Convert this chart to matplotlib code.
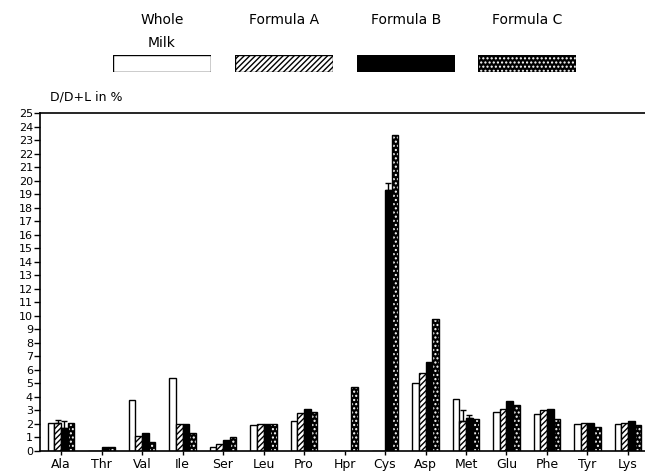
import matplotlib
matplotlib.use("Agg")
import matplotlib.pyplot as plt
from matplotlib.patches import Rectangle
import numpy as np

amino_acids = ["Ala", "Thr", "Val", "Ile", "Ser", "Leu", "Pro", "Hpr",
               "Cys", "Asp", "Met", "Glu", "Phe", "Tyr", "Lys"]
whole_milk = [2.05, 0, 3.8, 5.4, 0.3, 1.9, 2.2, 0, 0, 5.0, 3.85, 2.85, 2.75, 2.0, 2.0]
formula_a = [2.1, 0, 1.1, 2.0, 0.5, 2.0, 2.8, 0, 0, 5.75, 2.2, 3.1, 3.0, 2.1, 2.1]
formula_b = [1.7, 0.3, 1.3, 2.0, 0.8, 2.0, 3.1, 0, 19.3, 6.6, 2.45, 3.7, 3.1, 2.1, 2.2]
formula_c = [2.05, 0.3, 0.7, 1.3, 1.0, 2.0, 2.9, 4.7, 23.4, 9.8, 2.4, 3.4, 2.4, 1.8, 1.9]
# upward error bars (only a few are drawn in the original)
err_a = [0.2, 0, 0, 0, 0, 0, 0, 0, 0, 0, 0.8, 0, 0, 0, 0]
err_b = [0.55, 0, 0, 0, 0, 0, 0, 0, 0.5, 0, 0.2, 0, 0, 0, 0]

series = [("Whole", "Milk"), ("Formula A", ""), ("Formula B", ""), ("Formula C", "")]

W, H = 645, 474
fig = plt.figure(figsize=(W / 100, H / 100), dpi=100)
ax = fig.add_axes([40 / W, 23 / H, (W - 40) / W, 338 / H])

x = np.arange(len(amino_acids))
w = 0.163


def draw_bars(ax, xs, vals, style, yerr=None):
    if style == "white":
        ax.bar(xs, vals, w, color="white", edgecolor="black", linewidth=1)
    elif style == "hatch":
        ax.bar(xs, vals, w, color="white", edgecolor="black", linewidth=1, hatch="//////")
    elif style == "black":
        ax.bar(xs, vals, w, color="black", edgecolor="black", linewidth=1)
    else:
        ax.bar(xs, vals, w, color="black", edgecolor="white", linewidth=0, hatch="....")
        ax.bar(xs, vals, w, fill=False, edgecolor="black", linewidth=1)
    if yerr is not None:
        lo = np.zeros(len(vals))
        hi = np.array(yerr)
        m = hi > 0
        ax.errorbar(np.asarray(xs)[m], np.asarray(vals)[m], yerr=[lo[m], hi[m]],
                    fmt="none", ecolor="black", elinewidth=1, capsize=2.5)


plt.rcParams["hatch.linewidth"] = 1.0
draw_bars(ax, x - 1.5 * w, whole_milk, "white")
draw_bars(ax, x - 0.5 * w, formula_a, "hatch", err_a)
draw_bars(ax, x + 0.5 * w, formula_b, "black", err_b)
draw_bars(ax, x + 1.5 * w, formula_c, "dots")

ax.set_xlim(-0.519, 14.42)
ax.set_ylim(0, 25)
ax.set_yticks(range(26))
ax.set_yticklabels([str(i) for i in range(26)], fontsize=8)
ax.set_xticks(x)
ax.set_xticklabels(amino_acids, fontsize=9)
ax.tick_params(axis="y", direction="out", length=4, width=1, pad=1)
ax.tick_params(axis="x", direction="out", length=3, width=1, pad=2)
ax.spines["right"].set_visible(False)
for s in ["left", "bottom", "top"]:
    ax.spines[s].set_linewidth(1.2)

fig.text(50 / W, 1 - 97 / H, "D/D+L in %", fontsize=9, va="center", ha="left")

# legend drawn as boxes above the plot
boxes = [(113, 211, "white"), (235, 333, "hatch"), (357, 455, "black"), (478, 576, "dots")]
for (x0, x1, style), (line1, line2) in zip(boxes, series):
    bx = fig.add_axes([x0 / W, 1 - 72 / H, (x1 - x0) / W, 17 / H])
    bx.set_xlim(0, 1)
    bx.set_ylim(0, 1)
    bx.axis("off")
    if style == "white":
        bx.add_patch(Rectangle((0, 0), 1, 1, facecolor="white", edgecolor="black", lw=1))
    elif style == "hatch":
        bx.add_patch(Rectangle((0, 0), 1, 1, facecolor="white", edgecolor="black", lw=1, hatch="//////"))
    elif style == "black":
        bx.add_patch(Rectangle((0, 0), 1, 1, facecolor="black", edgecolor="black", lw=1))
    else:
        bx.add_patch(Rectangle((0, 0), 1, 1, facecolor="black", edgecolor="white", lw=0, hatch="...."))
        bx.add_patch(Rectangle((0, 0), 1, 1, fill=False, edgecolor="black", lw=1))
    cx = (x0 + x1) / 2 / W
    fig.text(cx, 1 - 20 / H, line1, fontsize=10, ha="center", va="center")
    if line2:
        fig.text(cx, 1 - 43 / H, line2, fontsize=10, ha="center", va="center")

fig.savefig("out.png", dpi=100)
